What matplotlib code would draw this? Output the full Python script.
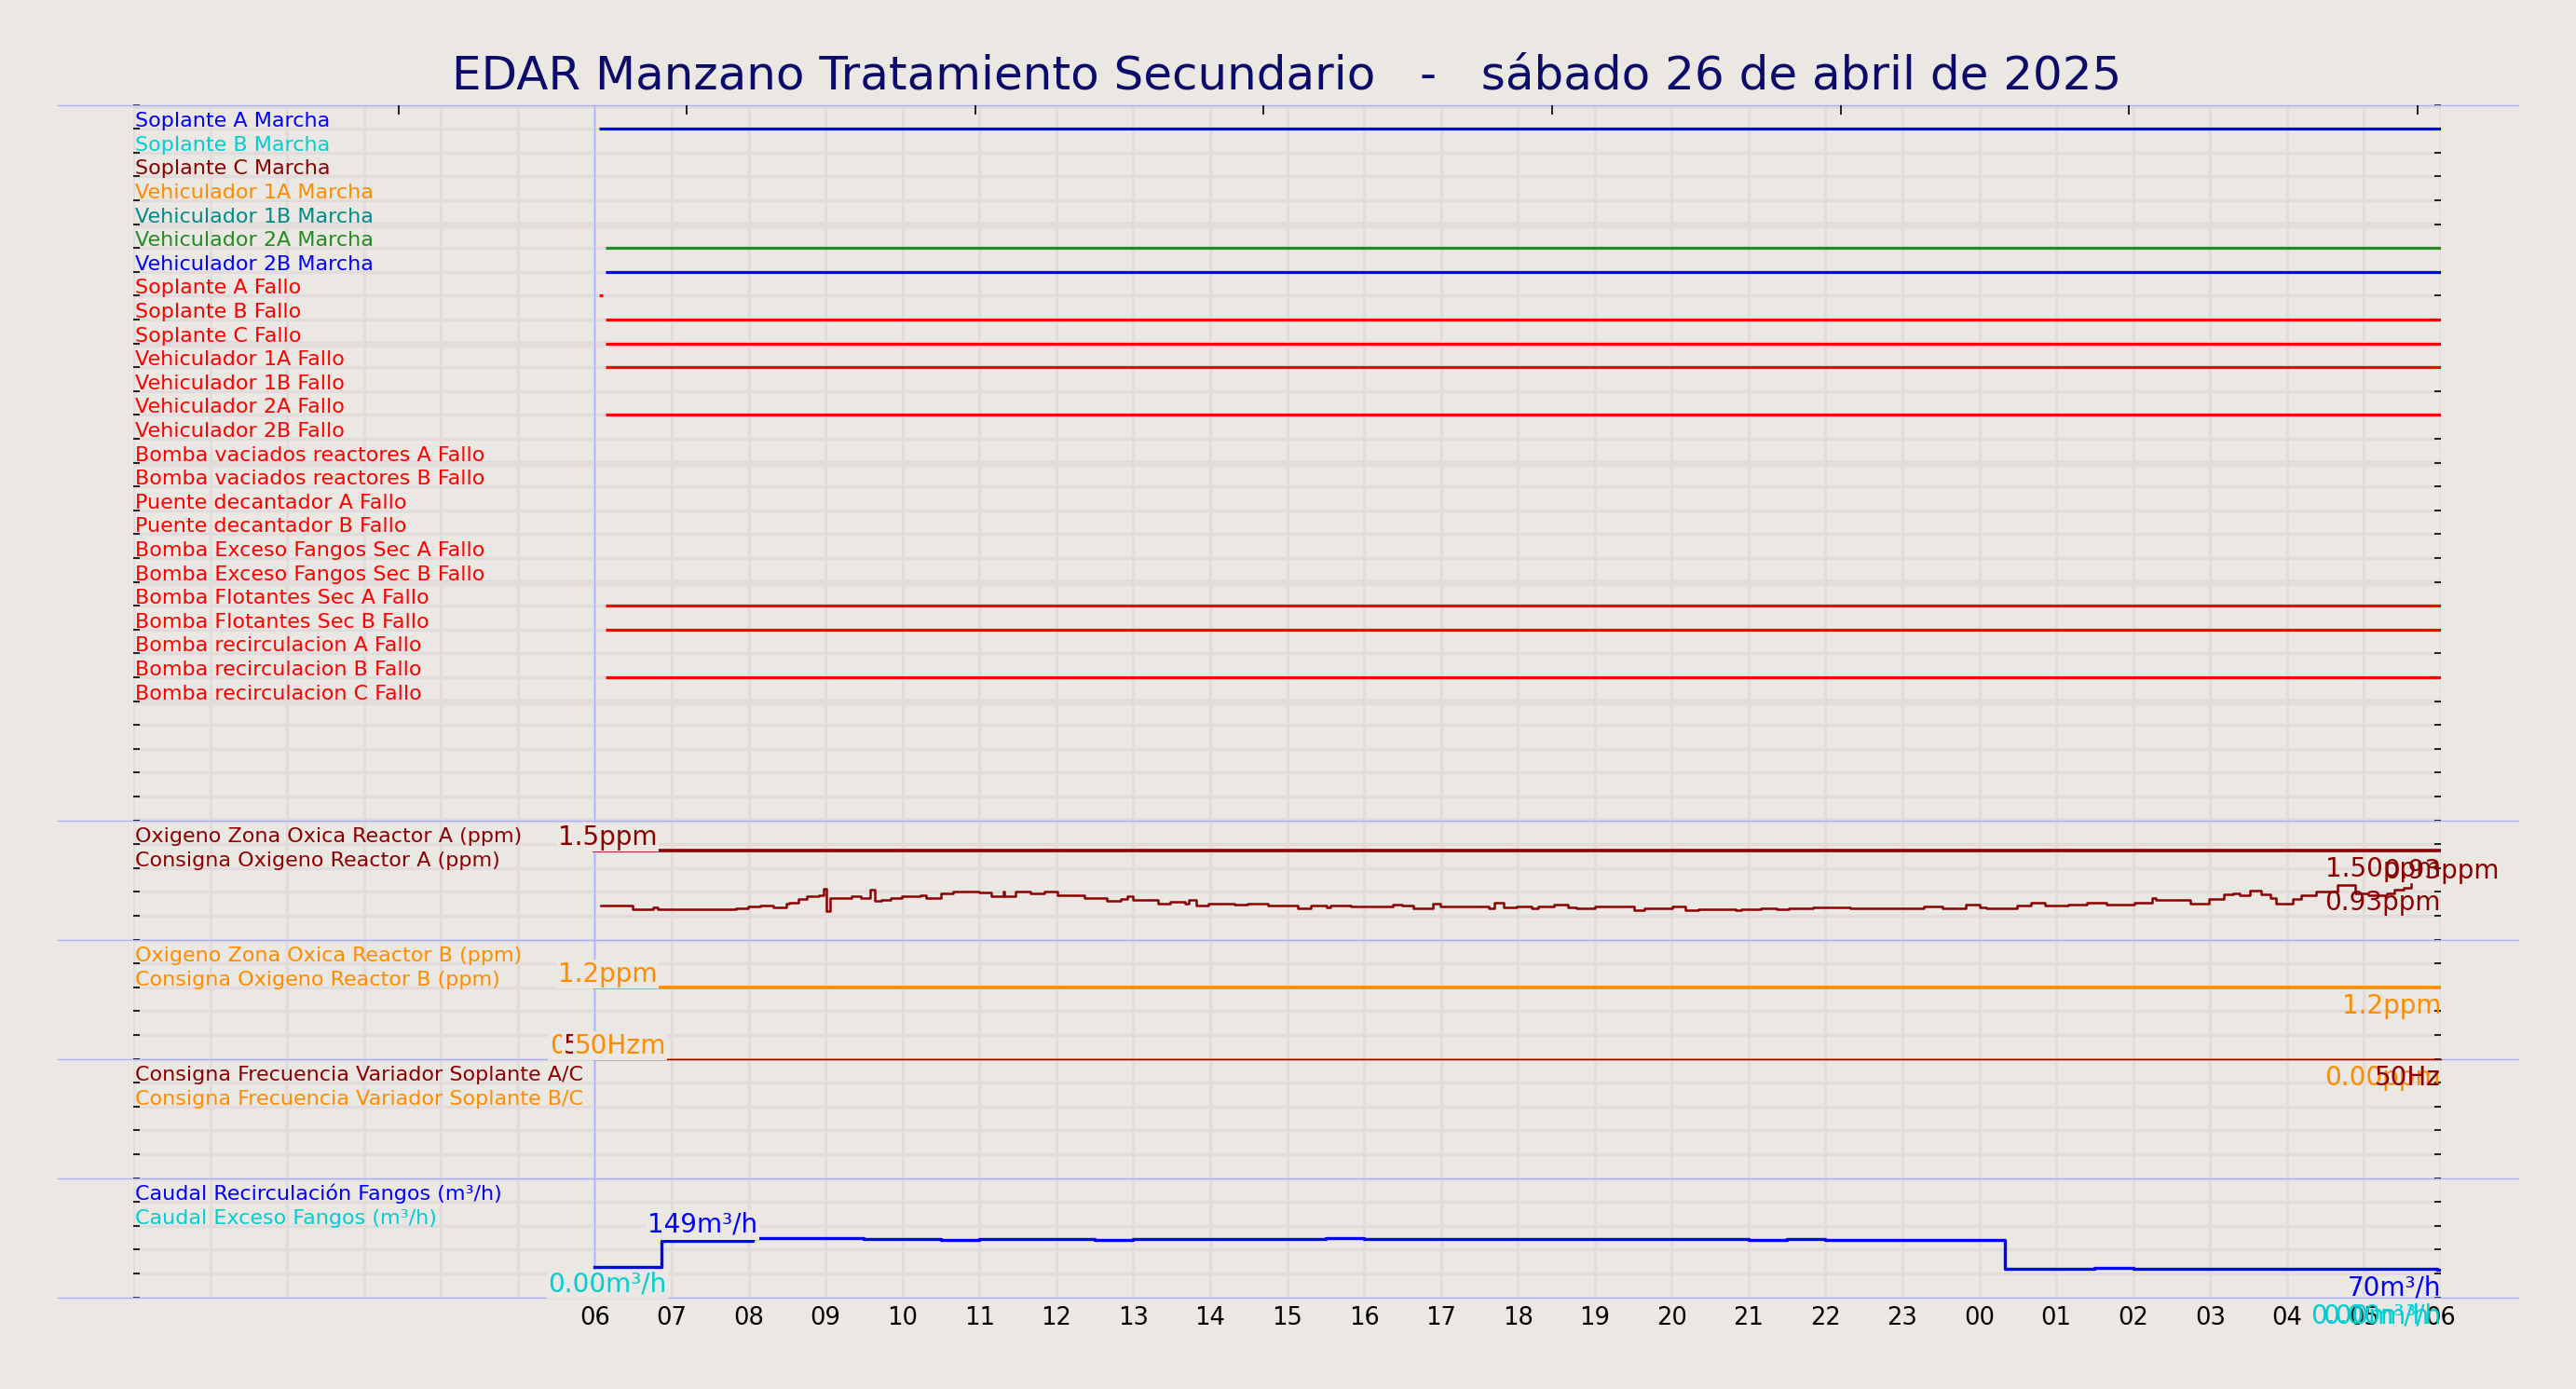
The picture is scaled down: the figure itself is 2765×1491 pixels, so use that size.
import numpy as np
import pandas as pd
import matplotlib
matplotlib.use('Agg')
import matplotlib.pyplot as plt
import matplotlib.dates as mdates
import matplotlib.transforms as mtransforms
from matplotlib.ticker import MultipleLocator, FixedLocator, FuncFormatter

# ---------------------------------------------------------------- data
DAY0 = pd.Timestamp('2025-04-26 00:00')
TITLE = 'EDAR Manzano Tratamiento Secundario   -   sábado 26 de abril de 2025'

# digital signals (top panel): hours since 26/04 00:00 where signal is on
SIG_LABELS = ['Soplante A Marcha', 'Soplante B Marcha', 'Soplante C Marcha',
              'Vehiculador 1A Marcha', 'Vehiculador 1B Marcha',
              'Vehiculador 2A Marcha', 'Vehiculador 2B Marcha',
              'Soplante A Fallo', 'Soplante B Fallo', 'Soplante C Fallo',
              'Vehiculador 1A Fallo', 'Vehiculador 1B Fallo',
              'Vehiculador 2A Fallo', 'Vehiculador 2B Fallo',
              'Bomba vaciados reactores A Fallo', 'Bomba vaciados reactores B Fallo',
              'Puente decantador A Fallo', 'Puente decantador B Fallo',
              'Bomba Exceso Fangos Sec A Fallo', 'Bomba Exceso Fangos Sec B Fallo',
              'Bomba Flotantes Sec A Fallo', 'Bomba Flotantes Sec B Fallo',
              'Bomba recirculacion A Fallo', 'Bomba recirculacion B Fallo',
              'Bomba recirculacion C Fallo']
SIG_COLORS = ['#0000FF', '#00CED1', '#8B0000', '#FF8C00', '#008B8B',
              '#228B22', '#0000FF'] + ['#FF0000'] * 18
nan = np.nan
SIG_ON_START = [6.06, nan, nan, nan, nan, 6.14, 6.14, 6.06, 6.14, 6.14,
                6.14, nan, 6.14, nan, nan, nan, nan, nan, nan, nan,
                6.14, 6.14, nan, 6.14, nan]
SIG_ON_END = [30.0, nan, nan, nan, nan, 30.0, 30.0, 6.10, 30.0, 30.0,
              30.0, nan, 30.0, nan, nan, nan, nan, nan, nan, nan,
              30.0, 30.0, nan, 30.0, nan]

# Oxigeno Zona Oxica Reactor A (ppm)
OXA_HOURS = [6.08, 6.49, 6.76, 6.82, 7.84, 7.99, 8.15, 8.32, 8.49, 8.53, 8.65, 8.76,
             8.92, 8.97, 9.01, 9.06, 9.34, 9.46, 9.58, 9.64, 9.73, 9.85, 9.99, 10.23,
             10.31, 10.50, 10.66, 10.81, 11.00, 11.16, 11.31, 11.33, 11.47, 11.66, 11.84,
             12.01, 12.36, 12.51, 12.66, 12.84, 12.92, 13.00, 13.32, 13.48, 13.67, 13.72,
             13.82, 13.98, 14.32, 14.48, 14.75, 15.14, 15.31, 15.52, 15.56, 15.83, 16.14,
             16.37, 16.49, 16.64, 16.89, 16.99, 17.62, 17.70, 17.82, 17.98, 18.18, 18.26,
             18.47, 18.65, 18.76, 19.00, 19.51, 19.65, 20.01, 20.18, 20.35, 20.83, 20.91,
             21.16, 21.36, 21.52, 21.84, 22.32, 22.48, 23.00, 23.28, 23.52, 23.68, 23.82,
             24.01, 24.09, 24.33, 24.49, 24.67, 24.85, 25.15, 25.40, 25.65, 25.81, 26.01,
             26.25, 26.29, 26.50, 26.74, 26.98, 27.18, 27.30, 27.38, 27.52, 27.66, 27.78,
             27.86, 28.08, 28.18, 28.38, 28.66, 28.88, 29.05, 29.30, 29.39, 29.51, 29.61]
OXA_PPM = [0.57, 0.51, 0.54, 0.51, 0.53, 0.55, 0.57, 0.54, 0.61, 0.62, 0.68, 0.72,
           0.75, 0.86, 0.47, 0.70, 0.72, 0.69, 0.84, 0.65, 0.66, 0.70, 0.72, 0.75,
           0.70, 0.78, 0.80, 0.81, 0.79, 0.73, 0.80, 0.73, 0.80, 0.78, 0.80,
           0.75, 0.69, 0.70, 0.65, 0.68, 0.72, 0.66, 0.61, 0.63, 0.61, 0.66,
           0.57, 0.61, 0.58, 0.60, 0.57, 0.53, 0.57, 0.54, 0.57, 0.55, 0.56,
           0.58, 0.57, 0.53, 0.61, 0.56, 0.53, 0.62, 0.54, 0.555, 0.53, 0.555,
           0.585, 0.54, 0.52, 0.555, 0.50, 0.53, 0.555, 0.50, 0.51, 0.50, 0.51,
           0.53, 0.51, 0.52, 0.54, 0.53, 0.52, 0.53, 0.555, 0.52, 0.53, 0.59,
           0.54, 0.53, 0.52, 0.57, 0.62, 0.57, 0.585, 0.62, 0.59, 0.585, 0.62,
           0.70, 0.67, 0.66, 0.61, 0.68, 0.76, 0.78, 0.74, 0.82, 0.76, 0.69,
           0.61, 0.68, 0.74, 0.80, 0.91, 0.77, 0.74, 0.78, 0.83, 0.87, 0.93]
OXA_SET = 1.5      # Consigna Oxigeno Reactor A (ppm)
OXB_PPM = 0.0      # Oxigeno Zona Oxica Reactor B (ppm)
OXB_SET = 1.2      # Consigna Oxigeno Reactor B (ppm)
FREQ_AC = 50       # Hz
FREQ_BC = 50       # Hz

# Caudal Recirculacion Fangos (m3/h)
REC_HOURS = [6.00, 6.87, 7.50, 8.05, 8.50, 9.00, 9.50, 10.00, 10.50, 11.00, 11.50,
             12.00, 12.50, 13.00, 13.50, 14.00, 14.50, 15.00, 15.50, 16.00, 16.50,
             17.00, 17.50, 18.00, 18.50, 19.00, 19.50, 20.00, 20.50, 21.00, 21.50,
             22.00, 22.50, 23.00, 23.50, 24.00, 24.33, 25.00, 25.50, 26.00, 26.50,
             27.00, 27.50, 28.00, 28.50, 29.00, 29.50, 29.95]
REC_M3H = [76, 141, 142, 148, 148, 149, 147, 146, 145, 146, 146,
           147, 145, 146, 147, 147, 146, 147, 148, 147, 146,
           147, 146, 147, 146, 147, 147, 146, 146, 145, 146,
           145, 144, 144, 143, 143, 72, 72, 73, 72, 72,
           72, 71, 72, 71, 72, 71, 70]
EXC_M3H = 0.0      # Caudal Exceso Fangos (m3/h)

# ---------------------------------------------------------------- style
BG = '#EBE7E2'
GRID = '#E1DCDB'
SEP = '#AEAEFF'
DRED = '#8B0000'
ORANGE = '#FF8C00'
BLUE = '#0000FF'
CYAN = '#00CED1'
TITLE_C = '#0B0B6B'


def tnum(h):
    return mdates.date2num(DAY0 + pd.to_timedelta(np.asarray(h, dtype=float), unit='h'))


W, H = 2765, 1491
fig = plt.figure(figsize=(W / 100, H / 100), dpi=100, facecolor=BG)

left, width = 143 / W, 2477 / W
top_px, row_px = 112.7, 25.596
rows = [30, 5, 5, 5, 5]
ylims = [(0, 30), (0, 2), (0, 2), (0, 50), (0, 300)]
axes = []
cum = 0
for r, yl in zip(rows, ylims):
    ytop = top_px + cum * row_px
    hpx = r * row_px
    ax = fig.add_axes([left, 1 - (ytop + hpx) / H, width, hpx / H],
                      sharex=axes[0] if axes else None)
    ax.set_facecolor('none')
    ax.set_ylim(*yl)
    for s in ax.spines.values():
        s.set_visible(False)
    ax.set_axisbelow(True)
    axes.append(ax)
    cum += r

x0, x6, x30 = tnum(0.0), tnum(6.0), tnum(30.0)


def xfmt(x, pos):
    if x < x6 - 1e-6:
        return ''
    return mdates.num2date(x).strftime('%H')


for i, ax in enumerate(axes):
    ax.set_xlim(x0, x30)
    ax.xaxis.set_major_locator(mdates.HourLocator(byhour=range(24)))
    ax.xaxis.set_major_formatter(FuncFormatter(xfmt))
    ax.grid(True, which='major', axis='x', color=GRID, lw=2.4)
    top = ax.get_ylim()[1]
    if i == 0:
        ax.yaxis.set_major_locator(MultipleLocator(5))
        ax.yaxis.set_minor_locator(MultipleLocator(1))
        ax.grid(True, which='major', axis='y', color=GRID, lw=4.8)
        ax.grid(True, which='minor', axis='y', color=GRID, lw=2.4)
    else:
        ax.yaxis.set_major_locator(MultipleLocator(top / 5))
        ax.grid(True, which='major', axis='y', color=GRID, lw=2.4)
    ax.tick_params(axis='y', which='both', left=True, right=True, direction='in',
                   length=5, width=1.2, color='black', labelleft=False, labelright=False)
    ax.tick_params(axis='x', which='both', length=0, labelsize=18.5, pad=6.5,
                   labelbottom=(i == len(axes) - 1), labelcolor='black')
    # panel separators and 06:00 marker
    ax.axhline(top, xmin=-0.0327, xmax=1.0335, color=SEP, lw=1.0, clip_on=False, zorder=2.2)
    if i == len(axes) - 1:
        ax.axhline(ax.get_ylim()[0], xmin=-0.0327, xmax=1.0335, color=SEP, lw=1.0,
                   clip_on=False, zorder=2.2)
    ax.axvline(x6, color=SEP, lw=1.0, zorder=1.5)

# top ticks of the upper panel
tw = axes[0].twiny()
tw.set_xlim(-0.919, 7.081)
tw.xaxis.set_major_locator(FixedLocator(range(8)))
tw.tick_params(axis='x', top=True, bottom=False, direction='in', length=7, width=1.2,
               color='black', labeltop=False, labelbottom=False)
tw.patch.set_visible(False)
for s in tw.spines.values():
    s.set_visible(False)

fig.text(left + width / 2, 1 - 82 / H, TITLE, ha='center', va='center',
         fontsize=36, color=TITLE_C)


def row_label(ax, y, s, color):
    trans = mtransforms.blended_transform_factory(ax.transAxes, ax.transData)
    trans = mtransforms.offset_copy(trans, fig=fig, x=2, y=2, units='dots')
    ax.text(0.0, y, s, transform=trans, ha='left', va='baseline', fontsize=16,
            color=color, zorder=4)


# ---------------------------------------------------------------- top panel
ax = axes[0]
for k, (lab, col, t0, t1) in enumerate(zip(SIG_LABELS, SIG_COLORS, SIG_ON_START, SIG_ON_END)):
    y = 30 - (k + 1)
    row_label(ax, y, lab, col)
    if not np.isnan(t0):
        ax.plot(tnum([t0, t1]), [y, y], color=col, lw=2.3, solid_capstyle='butt', zorder=3)

BOX = dict(boxstyle='square,pad=0.06', fc=BG, ec='none')


def vlab(ax, h, y, s, color, ha, va, box=True, z=5, data_ax=None):
    base = (data_ax or ax).transData
    dy = -6 if va == 'top' else 0
    trans = mtransforms.offset_copy(base, fig=fig, x=0, y=dy, units='dots')
    ax.text(tnum(h), y, s, color=color, fontsize=20, ha=ha, va=va, zorder=z,
            bbox=BOX if box else None, clip_on=False, transform=trans)


# ---------------------------------------------------------------- oxygen A
ax = axes[1]
row_label(ax, 1.6, 'Oxigeno Zona Oxica Reactor A (ppm)', DRED)
row_label(ax, 1.2, 'Consigna Oxigeno Reactor A (ppm)', DRED)
ax.plot(tnum([6.0, 30.0]), [OXA_SET, OXA_SET], color=DRED, lw=2.6, zorder=3)
ax.plot(tnum(OXA_HOURS), OXA_PPM, color=DRED, lw=1.8, drawstyle='steps-post', zorder=3)
vlab(ax, 6.165, OXA_SET, f'{OXA_SET:g}ppm', DRED, 'center', 'bottom')
vlab(ax, 30.0, OXA_SET, f'{OXA_SET:.2f}ppm', DRED, 'right', 'top', box=False)
vlab(ax, 30.0, OXA_PPM[-1], f'{OXA_PPM[-1]:.2f}ppm', DRED, 'right', 'top', box=False)
vlab(ax, 30.0, OXA_PPM[-1], f'{OXA_PPM[-1]:.2f}ppm', DRED, 'center', 'bottom', box=False)

# ---------------------------------------------------------------- oxygen B
ax = axes[2]
row_label(ax, 1.6, 'Oxigeno Zona Oxica Reactor B (ppm)', ORANGE)
row_label(ax, 1.2, 'Consigna Oxigeno Reactor B (ppm)', ORANGE)
ax.plot(tnum([6.0, 30.0]), [OXB_SET, OXB_SET], color=ORANGE, lw=2.6, zorder=3)
ax.plot(tnum([6.0, 30.0]), [OXB_PPM, OXB_PPM], color=ORANGE, lw=2.0, zorder=3)
vlab(ax, 6.165, OXB_SET, f'{OXB_SET:g}ppm', ORANGE, 'center', 'bottom')
vlab(ax, 30.0, OXB_SET, f'{OXB_SET:g}ppm', ORANGE, 'right', 'top', box=False)

# ---------------------------------------------------------------- frequency
ax = axes[3]
row_label(ax, 40, 'Consigna Frecuencia Variador Soplante A/C', DRED)
row_label(ax, 30, 'Consigna Frecuencia Variador Soplante B/C', ORANGE)
ax.plot(tnum([6.0, 30.0]), [FREQ_AC, FREQ_AC], color=DRED, lw=1.0, zorder=3.2, clip_on=False)
# oxygen B value label drawn here (in oxygen B coordinates) so it covers the frequency line
vlab(ax, 6.165, OXB_PPM, f'{OXB_PPM:.2f}ppm', ORANGE, 'center', 'bottom', z=5, data_ax=axes[2])
vlab(ax, 6.025, FREQ_AC, f'{FREQ_AC}Hz', DRED, 'center', 'bottom', z=6)
vlab(ax, 6.165, FREQ_BC, f'{FREQ_BC}Hz', ORANGE, 'center', 'bottom', z=7)
vlab(ax, 30.0, OXB_PPM, f'{OXB_PPM:.2f}ppm', ORANGE, 'right', 'top', box=False, data_ax=axes[2])
vlab(ax, 30.0, FREQ_AC, f'{FREQ_AC}Hz', DRED, 'right', 'top', box=False, z=6)

# ---------------------------------------------------------------- caudal
ax = axes[4]
row_label(ax, 240, 'Caudal Recirculación Fangos (m³/h)', BLUE)
row_label(ax, 180, 'Caudal Exceso Fangos (m³/h)', CYAN)
ax.plot(tnum(REC_HOURS + [30.0]), REC_M3H + [REC_M3H[-1]], color=BLUE, lw=2.4,
        drawstyle='steps-post', zorder=3)
imax = int(np.argmax(REC_M3H))
vlab(ax, 7.40, REC_M3H[imax], f'{REC_M3H[imax]}m³/h', BLUE, 'center', 'bottom')
vlab(ax, 6.165, EXC_M3H, f'{EXC_M3H:.2f}m³/h', CYAN, 'center', 'bottom')
vlab(ax, 30.0, REC_M3H[-1], f'{REC_M3H[-1]}m³/h', BLUE, 'right', 'top', box=False)
vlab(ax, 29.85, EXC_M3H, f'{EXC_M3H:.2f}m³/h', CYAN, 'right', 'top', box=False)
vlab(ax, 30.0, EXC_M3H, f'{EXC_M3H:.2f}m³/h', CYAN, 'right', 'top', box=False)

fig.savefig('out.png', dpi=100, facecolor=BG)
